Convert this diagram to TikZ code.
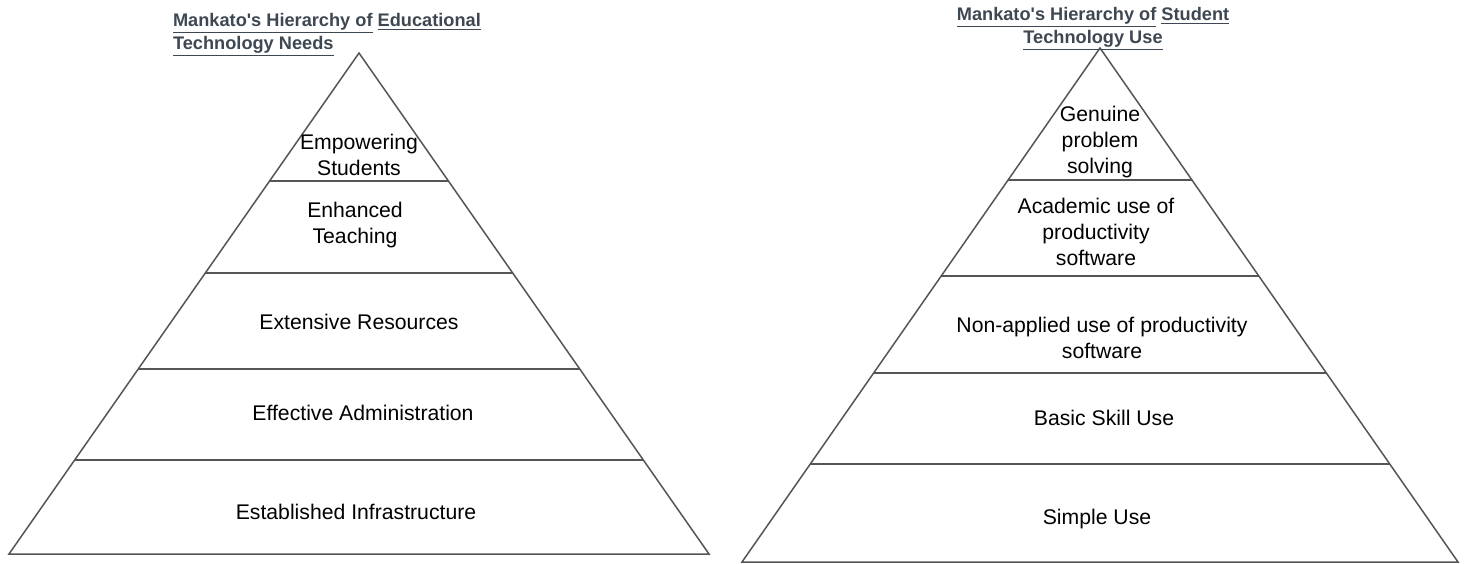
\documentclass[tikz,border=0pt]{standalone}
\usepackage{fontspec}
\setmainfont{Liberation Sans}
\usetikzlibrary{calc}
\definecolor{titlegray}{HTML}{3E4852}
\definecolor{linegray}{HTML}{555555}

\begin{document}
\begin{tikzpicture}[x=0.5pt, y=-0.5pt,
level/.style = {align=center, font=\fontsize{10.6}{13}\selectfont},
title/.style = {align=left, text=titlegray, font=\fontsize{9.1}{10}\bfseries},
edge/.style = {draw=linegray, line width=0.75pt, line join=miter}]
\useasboundingbox (0,0) rectangle (1465,563);

% left pyramid
\coordinate (la) at (359,53);
\coordinate (lbl) at (9,554);
\coordinate (lbr) at (709,554);
\draw[edge] (la) -- (lbl) -- (lbr) -- cycle;
\foreach \t in {0.2555,0.439,0.631,0.812}
  \draw[edge] ($(la)!\t!(lbl)$) -- ($(la)!\t!(lbr)$);

\node[title, anchor=north west] at (166,6) (lt) {\underline{Mankato\textquotesingle s Hierarchy of} \underline{Educational}\\\underline{Technology Needs}};
\node[level] at (359,155) (l5) {Empowering\\Students};
\node[level] at (355,225) (l4) {Enhanced\\Teaching};
\node[level] at (359,322) (l3) {Extensive Resources};
\node[level] at (363,413) (l2) {Effective Administration};
\node[level] at (356,512) (l1) {Established Infrastructure};

% right pyramid
\coordinate (ra) at (1100,48);
\coordinate (rbl) at (742,562);
\coordinate (rbr) at (1458,562);
\draw[edge] (ra) -- (rbl) -- (rbr) -- cycle;
\foreach \t in {0.257,0.4436,0.632,0.809}
  \draw[edge] ($(ra)!\t!(rbl)$) -- ($(ra)!\t!(rbr)$);

\node[title, align=center] at (1093,29) (rt) {\underline{Mankato\textquotesingle s Hierarchy of} \underline{Student}\\\underline{Technology Use}};
\node[level] at (1100,142) (r5) {Genuine\\problem\\solving};
\node[level] at (1096,232) (r4) {Academic use of\\productivity\\software};
\node[level] at (1102,338) (r3) {Non-applied use of productivity\\software};
\node[level] at (1104,418) (r2) {Basic Skill Use};
\node[level] at (1097,519) (r1) {Simple Use};

\end{tikzpicture}
\end{document}
